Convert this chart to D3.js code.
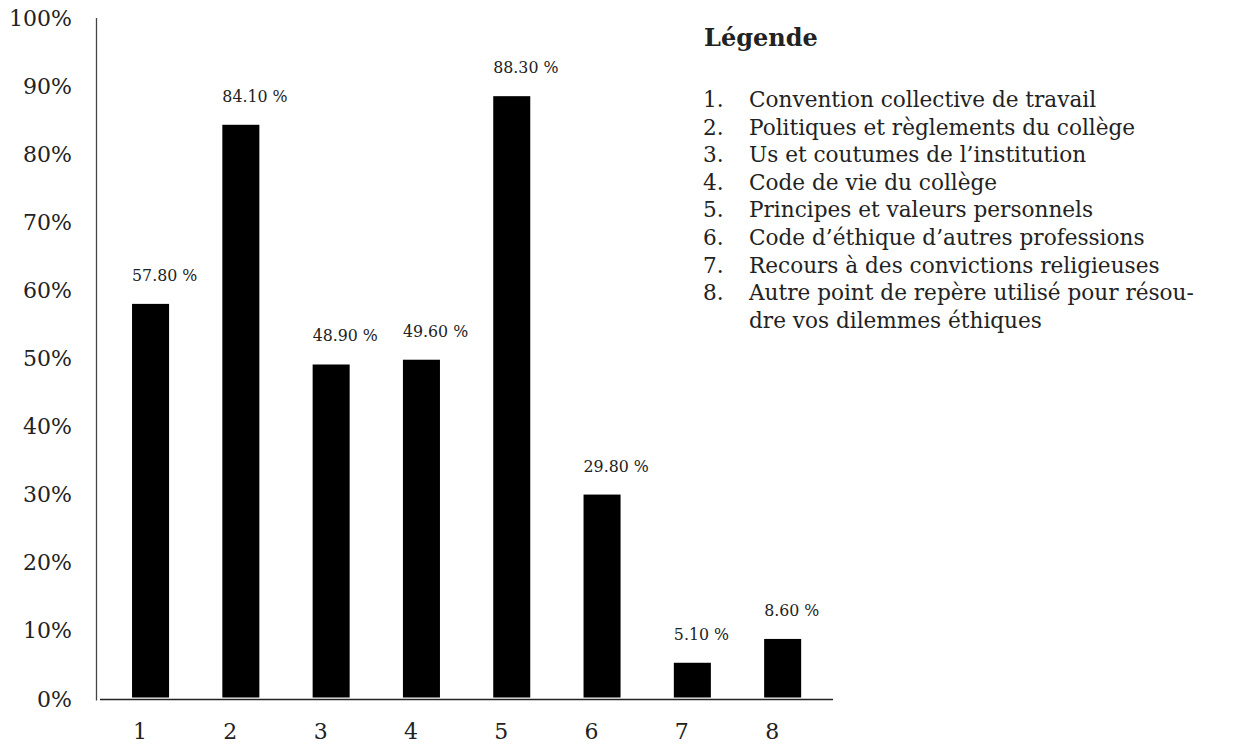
<!DOCTYPE html>
<html>
<head>
<meta charset="utf-8">
<script src="https://cdn.jsdelivr.net/npm/d3@7/dist/d3.min.js"></script>
<style>
  html, body { margin: 0; padding: 0; background: #fff; }
  svg { display: block; }
  text { font-family: "DejaVu Serif", Georgia, serif; fill: #222; font-variant-numeric: oldstyle-nums; }
</style>
</head>
<body>
<svg id="chart" width="1234" height="745"></svg>
<script>
const categories = ["1", "2", "3", "4", "5", "6", "7", "8"];
const values = [57.8, 84.1, 48.9, 49.6, 88.3, 29.8, 5.1, 8.6];
const yTicks = [0, 10, 20, 30, 40, 50, 60, 70, 80, 90, 100];
const legendTitle = "Légende";
const legendItems = [
  "Convention collective de travail",
  "Politiques et règlements du collège",
  "Us et coutumes de l’institution",
  "Code de vie du collège",
  "Principes et valeurs personnels",
  "Code d’éthique d’autres professions",
  "Recours à des convictions religieuses",
  ["Autre point de repère utilisé pour résou-", "dre vos dilemmes éthiques"]
];

const svg = d3.select("#chart");

const y = d3.scaleLinear().domain([0, 100]).range([697.5, 16.5]);
const x = d3.scaleBand().domain(categories).range([105.4, 827.8])
  .paddingInner(0.59).paddingOuter(0.295);

// axes lines
svg.append("line")
  .attr("x1", 96.5).attr("x2", 96.5)
  .attr("y1", y(100) + 1.5).attr("y2", y(0) + 3)
  .attr("stroke", "#444").attr("stroke-width", 1.3);
svg.append("line")
  .attr("x1", 100).attr("x2", 833)
  .attr("y1", y(0) + 2).attr("y2", y(0) + 2)
  .attr("stroke", "#222").attr("stroke-width", 1.5);

// y tick labels
svg.append("g").selectAll("text").data(yTicks).join("text")
  .attr("x", 72).attr("y", d => y(d) + 9)
  .attr("text-anchor", "end")
  .attr("font-size", 22)
  .text(d => d + "%");

// bars
svg.append("g").selectAll("rect").data(values).join("rect")
  .attr("x", (d, i) => x(categories[i]))
  .attr("width", x.bandwidth())
  .attr("y", d => y(d))
  .attr("height", d => y(0) - y(d))
  .attr("fill", "#000");

// value labels
const fmt = d3.format(".2f");
svg.append("g").selectAll("text").data(values).join("text")
  .attr("x", (d, i) => x(categories[i]))
  .attr("y", d => y(d) - 23)
  .attr("font-size", 15.8)
  .text(d => fmt(d) + " %");

// x labels
svg.append("g").selectAll("text").data(categories).join("text")
  .attr("x", d => x(d) + 1)
  .attr("y", 739)
  .attr("font-size", 22)
  .text(d => d);

// legend
const lg = svg.append("g");
lg.append("text").attr("x", 704).attr("y", 46)
  .attr("font-size", 24).attr("font-weight", "bold")
  .text(legendTitle);
const lineH = 27.6;
let row = 0;
legendItems.forEach((item, i) => {
  const lines = Array.isArray(item) ? item : [item];
  lg.append("text").attr("x", 703).attr("y", 107 + row * lineH)
    .attr("font-size", 21.6).text((i + 1) + ".");
  lines.forEach(l => {
    lg.append("text").attr("x", 749).attr("y", 107 + row * lineH)
      .attr("font-size", 21.6).text(l);
    row++;
  });
});
</script>
</body>
</html>
